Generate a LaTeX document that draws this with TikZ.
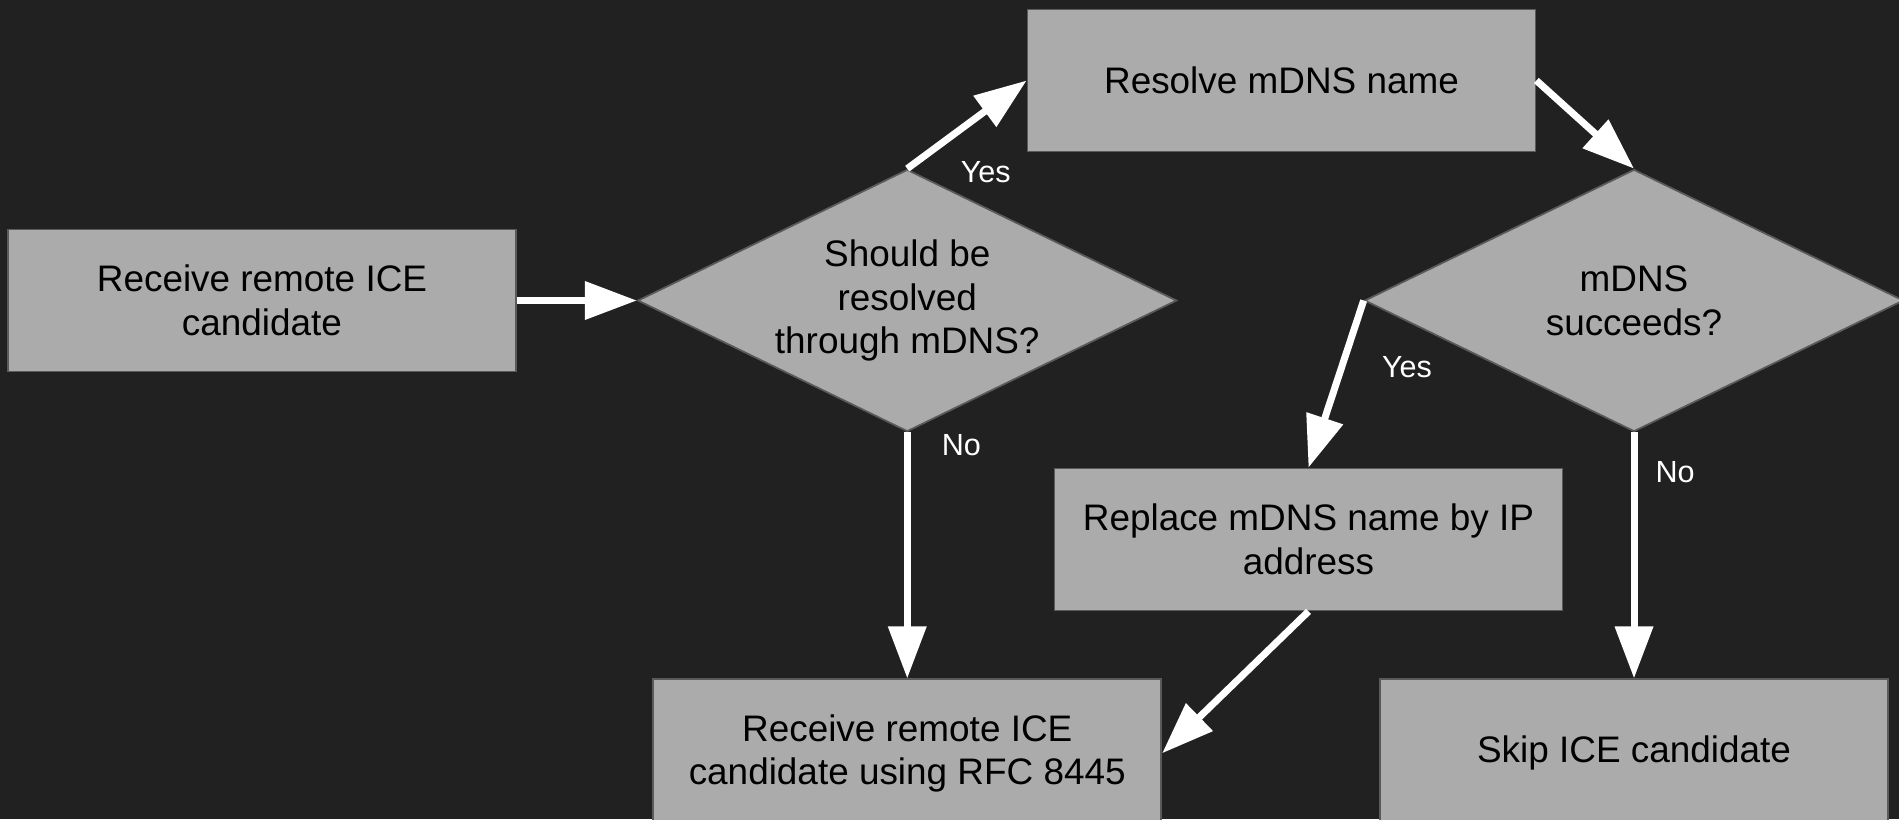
\documentclass[tikz,border=0pt]{standalone}
\usepackage{fontspec}
\setmainfont{Liberation Sans}
\usetikzlibrary{arrows.meta,positioning,shapes.geometric}

\definecolor{canvas}{HTML}{212121}
\definecolor{boxgray}{HTML}{ABABAB}
\definecolor{edgegray}{HTML}{5A5A5A}

\begin{document}
\begin{tikzpicture}[
  box/.style={draw=edgegray, line width=0.5pt, fill=boxgray, align=center, minimum width=5.08cm, minimum height=1.42cm, inner sep=0pt, font=\fontsize{10.5}{12.4}\selectfont},
  decision/.style={diamond, draw=edgegray, line width=0.5pt, fill=boxgray, align=center, aspect=2.05, minimum width=5.39cm, minimum height=2.62cm, inner sep=0pt, font=\fontsize{10.5}{12.4}\selectfont},
  flow/.style={-{Triangle[length=5.2mm, width=3.7mm]}, draw=white, line width=2pt},
  answer/.style={text=white, inner sep=0pt, font=\fontsize{8.7}{10}\selectfont}
]

% dark canvas, also fixes the page size
\fill[canvas] (0,0) rectangle (18.99,-8.19);
\useasboundingbox (0,0) rectangle (18.99,-8.19);

\node[box] (receive) at (2.62,-3.005) {Receive remote ICE\\candidate};
\node[decision, right=1.2cm of receive] (check) {Should be\\resolved\\through mDNS?};
\node[box] (resolve) at (12.815,-0.805) {Resolve mDNS name};
\node[decision, right=1.86cm of check] (succeeds) {mDNS\\succeeds?};
\node[box] (replace) at (13.085,-5.395) {Replace mDNS name by IP\\address};
% bottom row runs past the lower edge
\node[box, minimum height=1.48cm, below=2.46cm of check] (rfc) {Receive remote ICE\\candidate using RFC 8445};
\node[box, minimum height=1.48cm, below=2.46cm of succeeds] (skip) {Skip ICE candidate};

\draw[flow] (receive.east) -- (check.west);
\draw[flow] (check.north) -- node[answer, pos=0, anchor=west, xshift=5mm, yshift=-0.3mm] {Yes} (resolve.west);
\draw[flow] (resolve.east) -- (succeeds.north);
\draw[flow] (succeeds.west) -- node[answer, pos=0.4, right=3.7mm] {Yes} (replace.north);
\draw[flow] (check.south) -- node[answer, pos=0.05, right=3.1mm] {No} (rfc.north);
\draw[flow] (succeeds.south) -- node[answer, pos=0.163, right=1.8mm] {No} (skip.north);
\draw[flow] (replace.south) -- (rfc.east);

\end{tikzpicture}
\end{document}
